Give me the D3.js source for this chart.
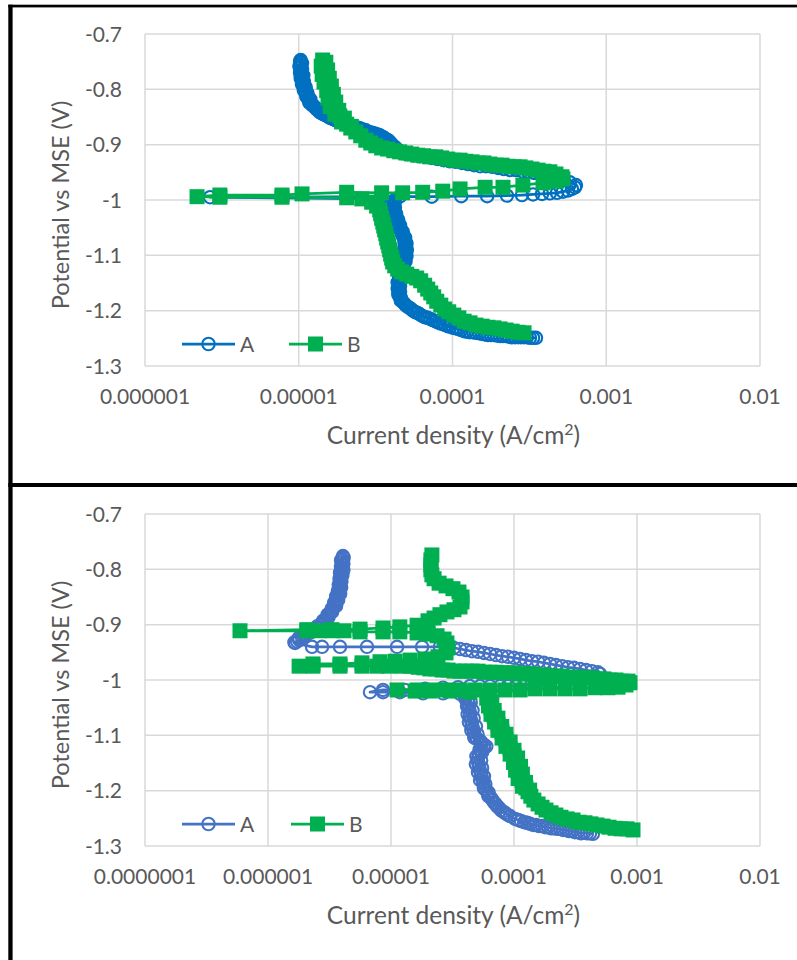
<!DOCTYPE html>
<html>
<head>
<meta charset="utf-8">
<script src="https://cdn.jsdelivr.net/npm/d3@7"></script>
<style>
  body { margin: 0; background: #fff; }
  svg { display: block; }
  text { font-family: Lato, "Open Sans", sans-serif; fill: #595959; }
</style>
</head>
<body>
<svg id="chart" width="797" height="960"></svg>
<script>
// Tick values
const potentialTicks = [-1.3, -1.2, -1.1, -1, -0.9, -0.8, -0.7];
const currentTicksTop = [1e-6, 1e-5, 1e-4, 1e-3, 1e-2];
const currentTicksBottom = [1e-7, 1e-6, 1e-5, 1e-4, 1e-3, 1e-2];
const seriesNames = ["A", "B"];

// Polarization data, [current density (A/cm2), potential vs MSE (V)], in sweep order
const topA = [
  [3.49e-4,-1.249],[3.34e-4,-1.249],[3.19e-4,-1.249],[3.05e-4,-1.248],[2.92e-4,-1.248],[2.79e-4,-1.248],[2.67e-4,-1.248],[2.55e-4,-1.248],[2.44e-4,-1.248],[2.33e-4,-1.247],
  [2.23e-4,-1.246],[2.13e-4,-1.246],[2.04e-4,-1.246],[1.95e-4,-1.245],[1.86e-4,-1.244],[1.78e-4,-1.244],[1.70e-4,-1.244],[1.63e-4,-1.243],[1.56e-4,-1.242],[1.49e-4,-1.241],
  [1.42e-4,-1.240],[1.36e-4,-1.239],[1.30e-4,-1.239],[1.24e-4,-1.238],[1.19e-4,-1.237],[1.14e-4,-1.235],[1.09e-4,-1.233],[1.05e-4,-1.232],[1.01e-4,-1.231],[9.67e-5,-1.229],
  [9.31e-5,-1.228],[8.97e-5,-1.226],[8.64e-5,-1.224],[8.32e-5,-1.223],[8.02e-5,-1.221],[7.72e-5,-1.219],[7.44e-5,-1.217],[7.17e-5,-1.215],[6.90e-5,-1.213],[6.64e-5,-1.212],
  [6.40e-5,-1.210],[6.16e-5,-1.207],[5.94e-5,-1.204],[5.76e-5,-1.203],[5.59e-5,-1.201],[5.43e-5,-1.198],[5.27e-5,-1.195],[5.11e-5,-1.193],[4.96e-5,-1.190],
  [4.85e-5,-1.187],[4.74e-5,-1.184],[4.62e-5,-1.182],[4.60e-5,-1.179],[4.62e-5,-1.177],[4.53e-5,-1.174],[4.44e-5,-1.171],[4.47e-5,-1.168],[4.56e-5,-1.166],[4.47e-5,-1.163],
  [4.40e-5,-1.160],[4.47e-5,-1.157],[4.56e-5,-1.155],[4.47e-5,-1.152],[4.40e-5,-1.149],[4.47e-5,-1.146],[4.60e-5,-1.144],[4.53e-5,-1.141],[4.50e-5,-1.139],[4.60e-5,-1.136],
  [4.70e-5,-1.133],[4.60e-5,-1.130],[4.58e-5,-1.128],[4.67e-5,-1.125],[4.80e-5,-1.122],[4.74e-5,-1.119],[4.70e-5,-1.117],[4.81e-5,-1.114],[4.95e-5,-1.111],[4.89e-5,-1.108],
  [4.82e-5,-1.106],[4.89e-5,-1.103],[5.02e-5,-1.101],[4.96e-5,-1.098],[4.88e-5,-1.095],[4.96e-5,-1.092],[5.05e-5,-1.090],[4.96e-5,-1.087],[4.88e-5,-1.084],[4.96e-5,-1.081],
  [5.02e-5,-1.079],[4.96e-5,-1.076],[4.86e-5,-1.074],[4.89e-5,-1.071],[4.92e-5,-1.068],[4.81e-5,-1.065],[4.70e-5,-1.063],[4.74e-5,-1.060],[4.74e-5,-1.057],[4.60e-5,-1.054],
  [4.50e-5,-1.052],[4.53e-5,-1.049],[4.56e-5,-1.046],[4.47e-5,-1.043],[4.36e-5,-1.041],[4.40e-5,-1.038],[4.43e-5,-1.036],[4.34e-5,-1.033],[4.24e-5,-1.030],[4.27e-5,-1.027],
  [4.30e-5,-1.025],[4.21e-5,-1.022],[4.12e-5,-1.019],[4.15e-5,-1.016],[4.22e-5,-1.014],[4.15e-5,-1.011],[4.10e-5,-1.008],[4.15e-5,-1.005],[4.22e-5,-1.003],[4.21e-5,-1.000],
  [3.36e-5,-0.998],[2.65e-6,-0.995],
  [4.53e-5,-0.994],[7.33e-5,-0.994],[1.14e-4,-0.993],[1.68e-4,-0.993],[2.26e-4,-0.992],[2.83e-4,-0.991],[3.34e-4,-0.990],[3.82e-4,-0.989],[4.30e-4,-0.988],[4.78e-4,-0.987],
  [5.23e-4,-0.985],[5.63e-4,-0.983],[5.98e-4,-0.980],[6.26e-4,-0.977],
  [6.35e-4,-0.973],[5.80e-4,-0.968],[5.31e-4,-0.964],[4.85e-4,-0.960],[4.43e-4,-0.957],[4.05e-4,-0.955],[3.71e-4,-0.953],[3.39e-4,-0.951],[3.10e-4,-0.949],[2.83e-4,-0.948],
  [2.59e-4,-0.946],[2.37e-4,-0.946],[2.16e-4,-0.944],[1.98e-4,-0.942],[1.81e-4,-0.940],[1.65e-4,-0.939],[1.51e-4,-0.939],[1.38e-4,-0.937],[1.26e-4,-0.935],[1.15e-4,-0.933],
  [1.05e-4,-0.931],[9.60e-5,-0.930],[8.77e-5,-0.928],[8.02e-5,-0.926],[7.33e-5,-0.924],[6.70e-5,-0.922],[6.12e-5,-0.921],[5.59e-5,-0.919],[5.11e-5,-0.917],[4.89e-5,-0.916],
  [4.67e-5,-0.915],[4.60e-5,-0.913],[4.53e-5,-0.912],[4.47e-5,-0.911],[4.40e-5,-0.910],[4.34e-5,-0.908],[4.27e-5,-0.906],[4.21e-5,-0.904],[4.14e-5,-0.903],
  [4.08e-5,-0.901],[4.02e-5,-0.899],[3.96e-5,-0.897],[3.90e-5,-0.895],[3.85e-5,-0.893],[3.76e-5,-0.891],[3.68e-5,-0.890],[3.60e-5,-0.888],[3.52e-5,-0.886],[3.44e-5,-0.885],
  [3.36e-5,-0.883],[3.28e-5,-0.882],[3.21e-5,-0.881],[3.12e-5,-0.880],[3.03e-5,-0.879],[2.94e-5,-0.878],[2.85e-5,-0.877],[2.79e-5,-0.876],[2.73e-5,-0.874],[2.65e-5,-0.873],
  [2.57e-5,-0.872],[2.51e-5,-0.871],[2.46e-5,-0.870],[2.38e-5,-0.869],[2.31e-5,-0.868],[2.26e-5,-0.867],[2.21e-5,-0.866],[2.14e-5,-0.865],[2.08e-5,-0.864],[1.99e-5,-0.863],
  [1.93e-5,-0.861],[1.88e-5,-0.859],[1.83e-5,-0.858],[1.79e-5,-0.857],[1.74e-5,-0.856],[1.69e-5,-0.854],[1.65e-5,-0.853],[1.61e-5,-0.852],[1.57e-5,-0.850],[1.54e-5,-0.848],
  [1.51e-5,-0.847],[1.48e-5,-0.846],[1.44e-5,-0.845],[1.41e-5,-0.843],[1.39e-5,-0.842],[1.37e-5,-0.841],[1.35e-5,-0.839],[1.33e-5,-0.837],[1.31e-5,-0.836],[1.29e-5,-0.834],
  [1.27e-5,-0.832],[1.25e-5,-0.830],[1.23e-5,-0.829],[1.21e-5,-0.827],[1.17e-5,-0.824],[1.18e-5,-0.821],[1.19e-5,-0.818],[1.16e-5,-0.816],[1.12e-5,-0.813],[1.13e-5,-0.810],
  [1.14e-5,-0.807],[1.11e-5,-0.805],[1.08e-5,-0.802],[1.09e-5,-0.799],[1.11e-5,-0.796],[1.08e-5,-0.794],[1.05e-5,-0.791],[1.06e-5,-0.789],[1.08e-5,-0.786],[1.05e-5,-0.783],
  [1.03e-5,-0.780],[1.05e-5,-0.778],[1.07e-5,-0.775],[1.05e-5,-0.772],[1.02e-5,-0.770],[1.03e-5,-0.767],[1.05e-5,-0.764],[1.03e-5,-0.761],[1.01e-5,-0.758],[1.03e-5,-0.756],
  [1.05e-5,-0.753],[1.03e-5,-0.751],[1.02e-5,-0.749],[1.03e-5,-0.747]
];

const topB = [
  [2.92e-4,-1.240],[2.67e-4,-1.239],[2.44e-4,-1.237],[2.23e-4,-1.235],[2.04e-4,-1.233],[1.86e-4,-1.231],[1.70e-4,-1.230],[1.56e-4,-1.228],[1.42e-4,-1.226],[1.30e-4,-1.222],
  [1.19e-4,-1.219],[1.10e-4,-1.213],[1.02e-4,-1.208],[9.45e-5,-1.202],[8.90e-5,-1.197],[8.39e-5,-1.190],[7.90e-5,-1.183],[7.55e-5,-1.175],[7.22e-5,-1.168],[6.90e-5,-1.161],
  [6.59e-5,-1.154],[6.21e-5,-1.146],[5.85e-5,-1.141],[5.43e-5,-1.138],[5.04e-5,-1.134],[4.67e-5,-1.130],[4.40e-5,-1.125],[4.21e-5,-1.119],[4.08e-5,-1.112],[4.02e-5,-1.105],
  [3.96e-5,-1.098],[3.90e-5,-1.090],[3.85e-5,-1.083],[3.79e-5,-1.076],[3.73e-5,-1.069],[3.68e-5,-1.061],[3.62e-5,-1.054],[3.57e-5,-1.047],[3.52e-5,-1.040],[3.46e-5,-1.033],
  [3.41e-5,-1.025],[3.36e-5,-1.018],[3.21e-5,-1.011],[2.98e-5,-1.004],[2.57e-5,-0.998],[2.05e-5,-0.996],
  [7.78e-6,-0.995],[3.07e-6,-0.995],[2.18e-6,-0.994],[3.07e-6,-0.991],[7.78e-6,-0.991],[1.05e-5,-0.989],[2.05e-5,-0.986],[3.46e-5,-0.987],[4.74e-5,-0.987],[6.40e-5,-0.986],
  [8.64e-5,-0.984],[1.12e-4,-0.980],[1.63e-4,-0.977],[2.13e-4,-0.977],[2.87e-4,-0.973],[3.88e-4,-0.969],[4.71e-4,-0.966],[5.23e-4,-0.962],
  [5.15e-4,-0.958],[4.71e-4,-0.953],[4.30e-4,-0.949],[3.93e-4,-0.948],[3.60e-4,-0.946],[3.29e-4,-0.944],[3.00e-4,-0.942],[2.75e-4,-0.940],[2.51e-4,-0.940],[2.30e-4,-0.939],
  [2.10e-4,-0.937],[1.92e-4,-0.937],[1.75e-4,-0.935],[1.60e-4,-0.933],[1.47e-4,-0.933],[1.34e-4,-0.931],[1.22e-4,-0.930],[1.12e-4,-0.928],[1.02e-4,-0.928],[9.31e-5,-0.926],
  [8.51e-5,-0.924],[7.78e-5,-0.922],[7.11e-5,-0.922],[6.49e-5,-0.920],[5.94e-5,-0.919],[5.43e-5,-0.917],[4.96e-5,-0.915],[4.53e-5,-0.913],[4.15e-5,-0.911],[3.79e-5,-0.908],
  [3.46e-5,-0.906],[3.17e-5,-0.902],[2.94e-5,-0.897],[2.73e-5,-0.892],[2.53e-5,-0.884],[2.35e-5,-0.877],[2.18e-5,-0.870],[2.20e-5,-0.867],[2.05e-5,-0.863],[1.90e-5,-0.859],
  [1.93e-5,-0.855],[1.98e-5,-0.852],[1.85e-5,-0.848],[1.72e-5,-0.845],[1.77e-5,-0.841],[1.82e-5,-0.838],[1.71e-5,-0.834],[1.60e-5,-0.831],[1.66e-5,-0.827],[1.74e-5,-0.823],
  [1.64e-5,-0.819],[1.55e-5,-0.816],[1.61e-5,-0.812],[1.68e-5,-0.809],[1.59e-5,-0.805],[1.52e-5,-0.802],[1.57e-5,-0.798],[1.63e-5,-0.794],[1.54e-5,-0.790],[1.46e-5,-0.787],
  [1.52e-5,-0.783],[1.58e-5,-0.780],[1.50e-5,-0.776],[1.42e-5,-0.773],[1.48e-5,-0.769],[1.54e-5,-0.765],[1.45e-5,-0.761],[1.40e-5,-0.758],[1.45e-5,-0.754],[1.50e-5,-0.751],
  [1.43e-5,-0.747]
];

const bottomA = [
  [4.38e-4,-1.278],[4.15e-4,-1.277],[3.92e-4,-1.277],[3.71e-4,-1.276],[3.51e-4,-1.277],[3.31e-4,-1.275],[3.13e-4,-1.275],[2.96e-4,-1.273],[2.80e-4,-1.273],[2.65e-4,-1.271],
  [2.50e-4,-1.271],[2.37e-4,-1.269],[2.24e-4,-1.269],[2.11e-4,-1.268],[2.00e-4,-1.268],[1.89e-4,-1.266],[1.79e-4,-1.266],[1.69e-4,-1.264],[1.60e-4,-1.264],[1.51e-4,-1.262],
  [1.43e-4,-1.262],[1.35e-4,-1.260],[1.28e-4,-1.258],[1.21e-4,-1.257],[1.14e-4,-1.255],[1.08e-4,-1.253],[1.02e-4,-1.251],[9.28e-5,-1.246],[8.77e-5,-1.243],[8.45e-5,-1.240],
  [8.14e-5,-1.238],[7.84e-5,-1.235],[7.55e-5,-1.231],[7.28e-5,-1.228],[7.08e-5,-1.224],[6.88e-5,-1.221],[6.69e-5,-1.217],[6.50e-5,-1.213],[6.20e-5,-1.210],[6.15e-5,-1.206],
  [6.20e-5,-1.203],[5.92e-5,-1.199],[5.70e-5,-1.196],[5.70e-5,-1.192],[5.85e-5,-1.188],[5.60e-5,-1.184],[5.30e-5,-1.181],[5.49e-5,-1.177],[5.70e-5,-1.174],[5.39e-5,-1.170],
  [5.10e-5,-1.167],[5.29e-5,-1.163],[5.50e-5,-1.159],[5.19e-5,-1.155],[4.90e-5,-1.152],[5.10e-5,-1.148],[5.40e-5,-1.145],[5.10e-5,-1.141],[4.95e-5,-1.138],[5.19e-5,-1.134],
  [5.50e-5,-1.131],[5.39e-5,-1.128],[5.25e-5,-1.126],[5.70e-5,-1.123],[5.95e-5,-1.120],[5.70e-5,-1.117],[5.45e-5,-1.115],[5.39e-5,-1.112],[5.30e-5,-1.110],[5.00e-5,-1.107],
  [4.75e-5,-1.104],[4.82e-5,-1.101],[5.05e-5,-1.098],[4.73e-5,-1.094],[4.50e-5,-1.091],[4.64e-5,-1.087],[4.90e-5,-1.084],[4.55e-5,-1.080],[4.30e-5,-1.076],[4.47e-5,-1.072],
  [4.70e-5,-1.069],[4.38e-5,-1.065],[4.20e-5,-1.062],[4.38e-5,-1.058],[4.60e-5,-1.055],[4.30e-5,-1.051],[4.15e-5,-1.047],[4.30e-5,-1.043],[4.45e-5,-1.040],[4.22e-5,-1.036],
  [4.00e-5,-1.033],[4.07e-5,-1.029],[3.64e-5,-1.025],
  [2.65e-5,-1.024],[1.82e-5,-1.024],[1.18e-5,-1.022],[8.61e-6,-1.022],[6.75e-6,-1.022],
  [8.61e-6,-1.018],[1.30e-5,-1.018],[1.89e-5,-1.016],[2.65e-5,-1.014],[3.51e-5,-1.013],[4.38e-5,-1.011],[5.29e-5,-1.011],[6.38e-5,-1.011],[7.70e-5,-1.011],[8.94e-5,-1.011],
  [1.04e-4,-1.011],[1.21e-4,-1.009],[1.40e-4,-1.007],[1.63e-4,-1.005],[1.89e-4,-1.004],[2.19e-4,-1.002],[2.55e-4,-1.000],[2.96e-4,-0.998],[3.44e-4,-0.996],[4.00e-4,-0.995],
  [4.55e-4,-0.993],[5.00e-4,-0.989],
  [4.82e-4,-0.986],[4.30e-4,-0.984],[3.85e-4,-0.982],[3.44e-4,-0.980],[3.07e-4,-0.978],[2.75e-4,-0.977],[2.46e-4,-0.975],[2.19e-4,-0.973],[1.96e-4,-0.971],[1.75e-4,-0.969],
  [1.57e-4,-0.967],[1.40e-4,-0.966],[1.25e-4,-0.964],[1.12e-4,-0.962],[1.00e-4,-0.960],[8.94e-5,-0.958],[7.99e-5,-0.957],[7.14e-5,-0.955],[6.38e-5,-0.953],[5.70e-5,-0.951],
  [5.10e-5,-0.949],[4.55e-5,-0.948],[4.07e-5,-0.946],[3.64e-5,-0.944],[3.25e-5,-0.942],[2.91e-5,-0.942],[2.50e-5,-0.940],[1.79e-5,-0.940],[1.12e-5,-0.940],[6.38e-6,-0.940],
  [3.85e-6,-0.940],[2.75e-6,-0.940],[2.28e-6,-0.940],
  [1.66e-6,-0.933],[1.64e-6,-0.932],[1.72e-6,-0.930],[1.80e-6,-0.928],[1.79e-6,-0.926],[1.78e-6,-0.924],[1.89e-6,-0.922],[2.00e-6,-0.921],[2.00e-6,-0.919],[1.99e-6,-0.917],
  [2.11e-6,-0.915],[2.22e-6,-0.914],[2.24e-6,-0.912],[2.24e-6,-0.910],[2.37e-6,-0.908],[2.50e-6,-0.906],[2.50e-6,-0.904],[2.52e-6,-0.903],[2.65e-6,-0.901],[2.80e-6,-0.898],
  [2.80e-6,-0.895],[2.80e-6,-0.893],[2.96e-6,-0.890],[3.10e-6,-0.887],[3.07e-6,-0.884],[3.05e-6,-0.882],[3.19e-6,-0.879],[3.32e-6,-0.877],[3.31e-6,-0.874],[3.30e-6,-0.871],
  [3.44e-6,-0.868],[3.58e-6,-0.866],[3.51e-6,-0.863],[3.45e-6,-0.860],[3.57e-6,-0.857],[3.72e-6,-0.855],[3.64e-6,-0.852],[3.58e-6,-0.849],[3.71e-6,-0.846],[3.86e-6,-0.844],
  [3.78e-6,-0.841],[3.70e-6,-0.839],[3.78e-6,-0.836],[3.93e-6,-0.833],[3.85e-6,-0.830],[3.76e-6,-0.828],[3.85e-6,-0.825],[3.95e-6,-0.822],[3.85e-6,-0.819],[3.82e-6,-0.817],
  [3.92e-6,-0.814],[4.02e-6,-0.811],[3.92e-6,-0.808],[3.85e-6,-0.806],[3.92e-6,-0.803],[4.10e-6,-0.801],[4.00e-6,-0.798],[3.92e-6,-0.795],[4.00e-6,-0.792],[4.10e-6,-0.790],
  [4.00e-6,-0.787],[3.93e-6,-0.784],[4.00e-6,-0.781],[4.12e-6,-0.779],[4.07e-6,-0.776]
];

const bottomB = [
  [9.28e-4,-1.271],[8.29e-4,-1.269],[7.41e-4,-1.269],[6.63e-4,-1.268],[5.92e-4,-1.266],[5.29e-4,-1.264],[4.73e-4,-1.262],[4.22e-4,-1.260],[3.78e-4,-1.258],[3.38e-4,-1.257],
  [3.02e-4,-1.253],[2.70e-4,-1.251],[2.41e-4,-1.248],[2.19e-4,-1.244],[2.00e-4,-1.240],[1.82e-4,-1.235],[1.69e-4,-1.230],[1.57e-4,-1.224],[1.45e-4,-1.217],[1.37e-4,-1.210],
  [1.30e-4,-1.202],[1.34e-4,-1.199],[1.25e-4,-1.195],[1.17e-4,-1.192],[1.21e-4,-1.188],[1.24e-4,-1.185],[1.16e-4,-1.181],[1.08e-4,-1.178],[1.12e-4,-1.174],[1.17e-4,-1.170],
  [1.10e-4,-1.166],[1.03e-4,-1.163],[1.08e-4,-1.159],[1.13e-4,-1.156],[1.06e-4,-1.152],[9.90e-5,-1.149],[1.02e-4,-1.145],[1.07e-4,-1.141],[1.00e-4,-1.137],[9.30e-5,-1.134],
  [9.63e-5,-1.130],[1.00e-4,-1.127],[9.28e-5,-1.123],[8.60e-5,-1.120],[8.94e-5,-1.116],[9.30e-5,-1.112],[8.61e-5,-1.108],[8.00e-5,-1.105],[8.29e-5,-1.101],[8.60e-5,-1.098],
  [7.99e-5,-1.094],[7.40e-5,-1.091],[7.70e-5,-1.087],[7.95e-5,-1.084],[7.41e-5,-1.080],[6.95e-5,-1.076],[7.14e-5,-1.072],[7.40e-5,-1.069],[6.88e-5,-1.065],[6.50e-5,-1.062],
  [6.63e-5,-1.058],[6.90e-5,-1.055],[6.50e-5,-1.051],[6.20e-5,-1.047],[6.38e-5,-1.043],[6.60e-5,-1.040],[6.26e-5,-1.036],[6.00e-5,-1.033],[6.15e-5,-1.029],
  [4.38e-5,-1.022],[3.02e-5,-1.020],[2.07e-5,-1.020],[1.57e-5,-1.020],[1.12e-5,-1.018],
  [1.63e-5,-1.018],[2.15e-5,-1.018],[2.80e-5,-1.018],[3.64e-5,-1.018],[4.82e-5,-1.018],[6.38e-5,-1.018],[8.45e-5,-1.018],[1.12e-4,-1.018],[1.48e-4,-1.016],[1.96e-4,-1.016],
  [2.60e-4,-1.016],[3.44e-4,-1.016],[4.55e-4,-1.014],[5.81e-4,-1.014],[7.01e-4,-1.013],[8.14e-4,-1.009],[8.77e-4,-1.005],
  [8.45e-4,-1.002],[7.55e-4,-1.002],[6.75e-4,-1.000],[6.03e-4,-1.000],[5.39e-4,-0.998],[4.82e-4,-0.998],[4.30e-4,-0.996],[3.85e-4,-0.996],[3.44e-4,-0.995],[3.07e-4,-0.995],
  [2.75e-4,-0.995],[2.46e-4,-0.993],[2.19e-4,-0.993],[1.96e-4,-0.993],[1.75e-4,-0.991],[1.57e-4,-0.991],[1.40e-4,-0.989],[1.25e-4,-0.989],[1.12e-4,-0.989],[1.00e-4,-0.987],
  [8.94e-5,-0.987],[7.99e-5,-0.987],[7.14e-5,-0.986],[6.38e-5,-0.986],[5.70e-5,-0.986],[5.10e-5,-0.984],[4.55e-5,-0.984],[4.07e-5,-0.984],[3.64e-5,-0.984],[3.25e-5,-0.984],
  [2.91e-5,-0.982],[2.60e-5,-0.982],[2.32e-5,-0.980],[2.07e-5,-0.980],[1.85e-5,-0.978],[1.66e-5,-0.977],[1.43e-5,-0.975],[1.25e-5,-0.975],[9.63e-6,-0.975],[7.70e-6,-0.975],
  [5.81e-6,-0.975],[3.85e-6,-0.975],[2.32e-6,-0.975],[1.79e-6,-0.975],
  [2.32e-6,-0.971],[3.85e-6,-0.971],[5.81e-6,-0.969],[8.14e-6,-0.967],[1.08e-5,-0.966],[1.43e-5,-0.964],[1.89e-5,-0.962],[2.41e-5,-0.958],[2.80e-5,-0.951],[2.91e-5,-0.942],
  [2.85e-5,-0.933],[2.70e-5,-0.926],[2.37e-5,-0.920],[2.00e-5,-0.917],[1.63e-5,-0.915],[1.18e-5,-0.913],[8.61e-6,-0.913],[5.60e-6,-0.913],[4.15e-6,-0.911],[3.31e-6,-0.911],
  [2.60e-6,-0.911],[2.07e-6,-0.911],[5.92e-7,-0.911],
  [2.07e-6,-0.909],[3.31e-6,-0.909],[5.60e-6,-0.908],[8.61e-6,-0.906],[1.18e-5,-0.904],[1.63e-5,-0.901],[2.00e-5,-0.893],[2.24e-5,-0.888],[2.50e-5,-0.882],[2.85e-5,-0.877],
  [3.25e-5,-0.873],[3.64e-5,-0.868],[3.78e-5,-0.859],[3.78e-5,-0.850],[3.57e-5,-0.841],[3.19e-5,-0.835],[2.80e-5,-0.830],[2.46e-5,-0.825],[2.24e-5,-0.817],[2.15e-5,-0.810],
  [2.11e-5,-0.801],[2.11e-5,-0.792],[2.11e-5,-0.783],[2.15e-5,-0.774]
];

const svg = d3.select("#chart");
svg.append("rect").attr("width", 797).attr("height", 960).attr("fill", "#fff");

const plotLeft = 145, plotRight = 760;
const tickFont = 21;
const green = "#00B050";
const circleR = 6.2, circleStroke = 2.1, squareSide = 15, lineWidth = 2.75;

function drawPanel(cfg) {
  const g = svg.append("g");
  const x = d3.scaleLog().domain(cfg.xDomain).range([plotLeft, plotRight]);
  const y = d3.scaleLinear().domain([-1.3, -0.7]).range([cfg.yBottom, cfg.yTop]);

  // gridlines
  g.append("g").selectAll("line").data(potentialTicks).join("line")
    .attr("x1", plotLeft).attr("x2", plotRight)
    .attr("y1", d => y(d)).attr("y2", d => y(d))
    .attr("stroke", "#d9d9d9").attr("stroke-width", 1.5);
  g.append("g").selectAll("line").data(cfg.xTicks).join("line")
    .attr("x1", d => x(d)).attr("x2", d => x(d))
    .attr("y1", cfg.yTop).attr("y2", cfg.yBottom)
    .attr("stroke", "#d9d9d9").attr("stroke-width", 1.5);

  // tick labels
  g.append("g").selectAll("text").data(potentialTicks).join("text")
    .attr("x", 122).attr("y", d => y(d) + 7.5)
    .attr("text-anchor", "end").attr("font-size", tickFont)
    .text(d => String(d));
  g.append("g").selectAll("text").data(cfg.xTicks).join("text")
    .attr("x", d => x(d)).attr("y", cfg.yBottom + 38)
    .attr("text-anchor", "middle").attr("font-size", tickFont)
    .text(d => d.toFixed(Math.round(-Math.log10(d))));

  // axis titles
  const xt = g.append("text")
    .attr("x", (plotLeft + plotRight) / 2 + 1).attr("y", cfg.yBottom + 78)
    .attr("text-anchor", "middle").attr("font-size", 24.5);
  xt.append("tspan").text("Current density (A/cm");
  xt.append("tspan").attr("font-size", 16).attr("dy", -9).text("2");
  xt.append("tspan").attr("dy", 9).text(")");

  g.append("text")
    .attr("transform", `translate(69,${(cfg.yTop + cfg.yBottom) / 2 + 5}) rotate(-90)`)
    .attr("text-anchor", "middle").attr("font-size", 23.5)
    .text("Potential vs MSE (V)");

  const line = d3.line().x(d => x(d[0])).y(d => y(d[1]));

  // series A: line with open circles
  g.append("path").datum(cfg.a).attr("d", line)
    .attr("fill", "none").attr("stroke", cfg.colorA)
    .attr("stroke-width", lineWidth).attr("stroke-linejoin", "round");
  g.append("g").selectAll("circle").data(cfg.a).join("circle")
    .attr("cx", d => x(d[0])).attr("cy", d => y(d[1])).attr("r", circleR)
    .attr("fill", "none").attr("stroke", cfg.colorA).attr("stroke-width", circleStroke);

  // series B: line with filled squares
  g.append("path").datum(cfg.b).attr("d", line)
    .attr("fill", "none").attr("stroke", green)
    .attr("stroke-width", lineWidth).attr("stroke-linejoin", "round");
  g.append("g").selectAll("rect").data(cfg.b).join("rect")
    .attr("x", d => x(d[0]) - squareSide / 2).attr("y", d => y(d[1]) - squareSide / 2)
    .attr("width", squareSide).attr("height", squareSide).attr("fill", green);

  // legend
  const ly = cfg.legendY;
  const leg = g.append("g");
  leg.append("line").attr("x1", 182).attr("x2", 235).attr("y1", ly).attr("y2", ly)
    .attr("stroke", cfg.colorA).attr("stroke-width", lineWidth);
  leg.append("circle").attr("cx", 208.5).attr("cy", ly).attr("r", circleR)
    .attr("fill", "none").attr("stroke", cfg.colorA).attr("stroke-width", circleStroke);
  leg.append("text").attr("x", 240).attr("y", ly + 7.5).attr("font-size", tickFont).text(seriesNames[0]);
  leg.append("line").attr("x1", cfg.legendBx).attr("x2", cfg.legendBx + 53).attr("y1", ly).attr("y2", ly)
    .attr("stroke", green).attr("stroke-width", lineWidth);
  leg.append("rect").attr("x", cfg.legendBx + 26.5 - squareSide / 2).attr("y", ly - squareSide / 2)
    .attr("width", squareSide).attr("height", squareSide).attr("fill", green);
  leg.append("text").attr("x", cfg.legendBx + 58).attr("y", ly + 7.5).attr("font-size", tickFont).text(seriesNames[1]);
}

drawPanel({
  a: topA, b: topB, colorA: "#0070C0",
  xDomain: [1e-6, 1e-2], xTicks: currentTicksTop,
  yTop: 34, yBottom: 366, legendY: 344, legendBx: 289
});
drawPanel({
  a: bottomA, b: bottomB, colorA: "#4472C4",
  xDomain: [1e-7, 1e-2], xTicks: currentTicksBottom,
  yTop: 514, yBottom: 846, legendY: 824, legendBx: 291
});

// panel frames
svg.append("rect").attr("x", 8.3).attr("y", 4.7).attr("width", 789).attr("height", 2.7).attr("fill", "#000");
svg.append("rect").attr("x", 8.3).attr("y", 4.7).attr("width", 4.3).attr("height", 956).attr("fill", "#000");
svg.append("rect").attr("x", 8.3).attr("y", 483).attr("width", 789).attr("height", 4).attr("fill", "#000");
</script>
</body>
</html>
